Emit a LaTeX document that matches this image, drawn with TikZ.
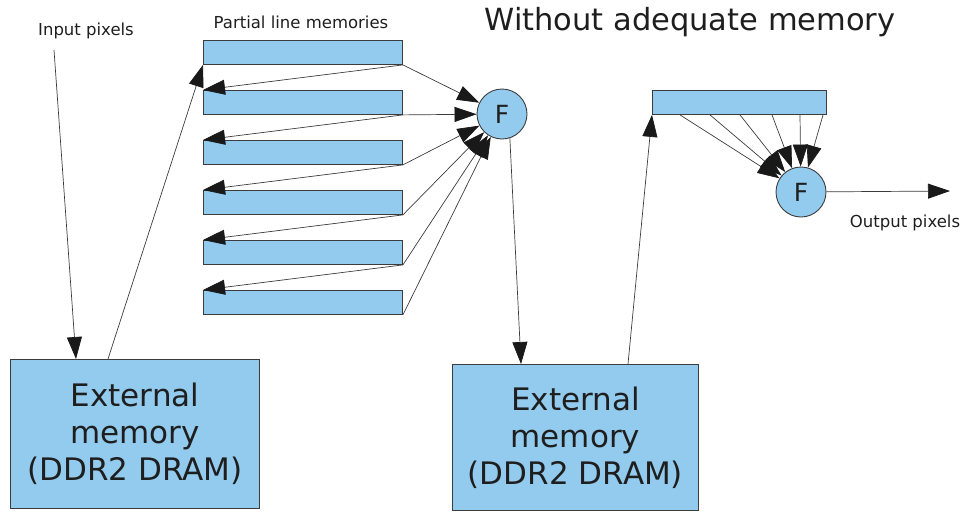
\documentclass[tikz,border=0pt]{standalone}
\usepackage{fontspec}
\setmainfont{DejaVu Sans}
\usetikzlibrary{arrows.meta}
\definecolor{memblue}{RGB}{146,203,238}
\definecolor{edgegray}{RGB}{60,60,60}
\definecolor{inkgray}{RGB}{30,30,30}
\tikzset{
    membar/.style={draw=edgegray, fill=memblue, line width=0.9pt, inner sep=0pt, anchor=north west, minimum height=24pt},
    extmem/.style={draw=edgegray, fill=memblue, line width=0.9pt, inner sep=0pt, anchor=north west, align=center, text=inkgray, font=\fontsize{31}{37}\selectfont},
    filt/.style={circle, draw=edgegray, fill=memblue, line width=0.9pt, minimum size=50pt, inner sep=0pt, text=inkgray, font=\fontsize{25}{25}\selectfont},
    flow/.style={-{Triangle[length=22pt,width=15pt,color=black!90]}, line width=0.7pt, draw=edgegray},
    small/.style={text=inkgray, font=\fontsize{16.5}{18}\selectfont}
}
\begin{document}
\begin{tikzpicture}[x=1pt, y=-1pt]
    \useasboundingbox (0,0) rectangle (964,512);

    % Define nodes
    \node[membar, minimum width=199pt] (m1) at (203,40) {};
    \node[membar, minimum width=199pt] (m2) at (203,90) {};
    \node[membar, minimum width=199pt] (m3) at (203,140) {};
    \node[membar, minimum width=199pt] (m4) at (203,190) {};
    \node[membar, minimum width=199pt] (m5) at (203,240) {};
    \node[membar, minimum width=199pt] (m6) at (203,290) {};
    \node[membar, minimum width=174pt] (mr) at (652,90) {};

    \node[extmem, minimum width=249pt, minimum height=149pt] (ext1) at (10,359) {External\\memory\\(DDR2 DRAM)};
    \node[extmem, minimum width=246pt, minimum height=146pt] (ext2) at (452,364) {External\\memory\\(DDR2 DRAM)};

    \node[filt] (f1) at (502,114) {F};
    \node[filt] (f2) at (801,192) {F};

    % Labels
    \node[small] (inlab) at (86,31) {Input pixels};
    \node[small] (plab) at (301,22) {Partial line memories};
    \node[small] (outlab) at (905,223) {Output pixels};
    \node[text=inkgray, font=\fontsize{30.5}{32}\selectfont] (title) at (690,22) {Without adequate memory};

    \coordinate (in) at (54,50);
    \coordinate (out) at (950,191);

    % Input side
    \draw[flow] (in) -- ([xshift=66pt]ext1.north west);
    \draw[flow] ([xshift=98pt]ext1.north west) -- (m1.south west);

    % Line memories shifted down
    \draw[flow] (m1.south east) -- (m2.north west);
    \draw[flow] (m2.south east) -- (m3.north west);
    \draw[flow] (m3.south east) -- (m4.north west);
    \draw[flow] (m4.south east) -- (m5.north west);
    \draw[flow] (m5.south east) -- (m6.north west);

    % Line memories into the filter
    \draw[flow] (m1.south east) -- (f1);
    \draw[flow] (m2.south east) -- (f1);
    \draw[flow] (m3.south east) -- (f1);
    \draw[flow] (m4.south east) -- (f1);
    \draw[flow] (m5.south east) -- (f1);
    \draw[flow] (m6.south east) -- (f1);

    % Through the second memory
    \draw[flow] (f1.-72) -- ([xshift=69pt]ext2.north west);
    \draw[flow] ([xshift=176pt]ext2.north west) -- (mr.south west);

    % One line memory, many taps
    \draw[flow] ([xshift=28pt]mr.south west) -- (f2);
    \draw[flow] ([xshift=58pt]mr.south west) -- (f2);
    \draw[flow] ([xshift=88pt]mr.south west) -- (f2);
    \draw[flow] ([xshift=120pt]mr.south west) -- (f2);
    \draw[flow] ([xshift=148pt]mr.south west) -- (f2);
    \draw[flow] ([xshift=171pt]mr.south west) -- (f2);

    \draw[flow] (f2) -- (out);
\end{tikzpicture}
\end{document}
